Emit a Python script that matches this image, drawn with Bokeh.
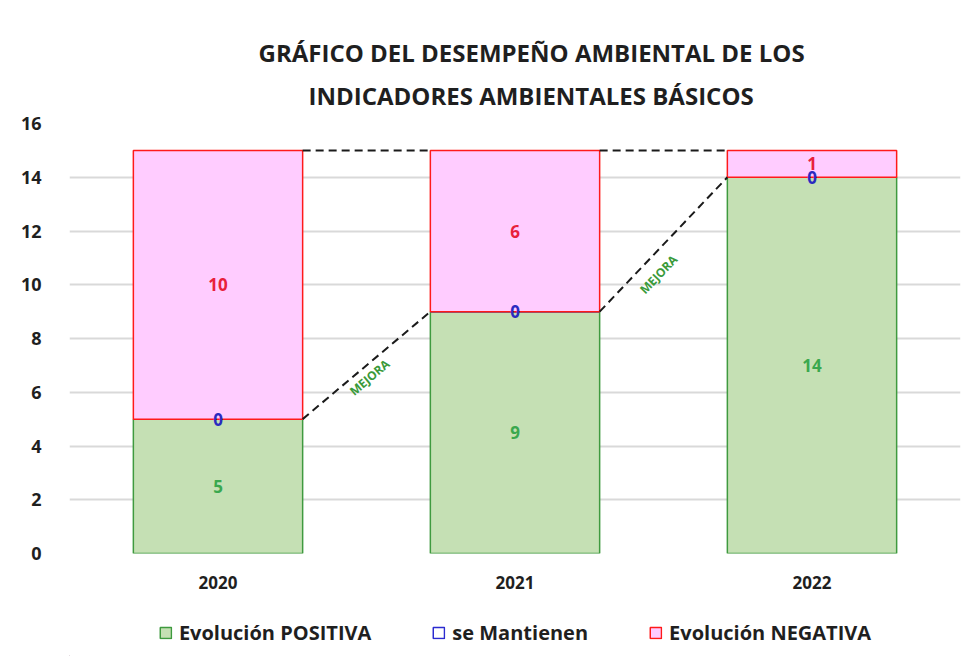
from bokeh.plotting import figure
from bokeh.layouts import column
from bokeh.models import ColumnDataSource, Legend, LegendItem, FixedTicker, Range1d, Title
from bokeh.core.properties import value
from bokeh.embed import file_html
from bokeh.resources import INLINE

# ---- data ----
years = ["2020", "2021", "2022"]
positiva = [5, 9, 14]
mantienen = [0, 0, 0]
negativa = [10, 6, 1]
y_ticks = [0, 2, 4, 6, 8, 10, 12, 14, 16]
series_names = ["Evolución POSITIVA", "se Mantienen", "Evolución NEGATIVA"]
title_1 = "GRÁFICO DEL DESEMPEÑO AMBIENTAL DE LOS"
title_2 = "INDICADORES AMBIENTALES BÁSICOS"
note = "MEJORA"

FONT = "Open Sans"
TXT = "#1f1f1f"
xs = list(range(len(years)))
BAR_W = 0.57
HALF = BAR_W / 2

POS_STYLE = dict(fill_color="#c5e0b4", line_color="#3f9a3f", line_width=1.5)
MAN_STYLE = dict(fill_color="white", fill_alpha=0, line_color="#2b2bd0", line_width=1.5)
NEG_STYLE = dict(fill_color="#ffccff", line_color="#ff1a1a", line_width=1.5)

top_pos = positiva
top_man = [a + b for a, b in zip(positiva, mantienen)]
top_neg = [a + b for a, b in zip(top_man, negativa)]

src = ColumnDataSource(dict(
    x=xs, pos=positiva, man_b=top_pos, man_t=top_man, neg_b=top_man, neg_t=top_neg,
    pos_mid=[v / 2 for v in positiva],
    neg_mid=[b + n / 2 for b, n in zip(top_man, negativa)],
    pos_lbl=[str(v) for v in positiva],
    man_lbl=[str(v) for v in mantienen],
    neg_lbl=[str(v) for v in negativa],
))

p = figure(width=964, height=608, x_range=Range1d(-0.5, len(years) - 0.5),
           y_range=Range1d(0, 16), output_backend="svg", toolbar_location=None,
           min_border_left=69, min_border_right=4, min_border_top=123, min_border_bottom=55)
p.outline_line_color = None
p.xgrid.grid_line_color = None
p.ygrid.grid_line_color = "#d9d9d9"
p.ygrid.grid_line_width = 2

p.vbar(x="x", bottom=0, top="pos", width=BAR_W, source=src, **POS_STYLE)
p.vbar(x="x", bottom="man_b", top="man_t", width=BAR_W, source=src, **MAN_STYLE)
p.vbar(x="x", bottom="neg_b", top="neg_t", width=BAR_W, source=src, **NEG_STYLE)

# connector (series) lines
for i in range(len(xs) - 1):
    p.line([xs[i] + HALF, xs[i + 1] - HALF], [top_pos[i], top_pos[i + 1]],
           line_color="#1a1a1a", line_width=2, line_dash="8 5")
    p.line([xs[i] + HALF, xs[i + 1] - HALF], [top_neg[i], top_neg[i + 1]],
           line_color="#1a1a1a", line_width=2, line_dash="8 5")

# MEJORA notes
mx = [(xs[i] + HALF + xs[i + 1] - HALF) / 2 for i in range(len(xs) - 1)]
my = [(top_pos[i] + top_pos[i + 1]) / 2 for i in range(len(xs) - 1)]
p.text(x=mx, y=my, text=[note] * len(mx), angle=[0.70, 0.81],
       x_offset=[3, -5], y_offset=[12, 30],
       text_align="center", text_baseline="middle", text_color="#3a9a3a",
       text_font=value(FONT), text_font_style="bold", text_font_size="12px")

# value labels
common = dict(source=src, text_align="center", text_baseline="middle",
              text_font=value(FONT), text_font_style="bold", text_font_size="17px")
p.text(x="x", y="pos_mid", text="pos_lbl", text_color="#3aa84e", **common)
p.text(x="x", y="neg_mid", text="neg_lbl", text_color="#e8203a", **common)
p.text(x="x", y="man_t", text="man_lbl", text_color="#2a2ac0", **common)

# axes
p.yaxis.ticker = FixedTicker(ticks=y_ticks)
p.yaxis.axis_line_color = None
p.yaxis.major_tick_line_color = None
p.yaxis.minor_tick_line_color = None
p.yaxis.major_label_standoff = 22
p.yaxis.major_label_text_font = FONT
p.yaxis.major_label_text_font_style = "bold"
p.yaxis.major_label_text_font_size = "18px"
p.yaxis.major_label_text_color = TXT

p.xaxis.ticker = FixedTicker(ticks=xs)
p.xaxis.major_label_overrides = {i: y for i, y in zip(xs, years)}
p.xaxis.axis_line_color = None
p.xaxis.major_tick_line_color = None
p.xaxis.minor_tick_line_color = None
p.xaxis.major_label_standoff = 16
p.xaxis.major_label_text_font = FONT
p.xaxis.major_label_text_font_style = "bold"
p.xaxis.major_label_text_font_size = "17px"
p.xaxis.major_label_text_color = TXT

t2 = Title(text=title_2, align="left", text_font=FONT, text_font_style="bold",
           text_font_size="24px", text_color=TXT, offset=239, standoff=24)
t1 = Title(text=title_1, align="left", text_font=FONT, text_font_style="bold",
           text_font_size="24px", text_color=TXT, offset=189, standoff=-9)
p.add_layout(t2, "above")
p.add_layout(t1, "above")

# ---- legend strip below the chart ----
lg = figure(width=964, height=48, x_range=Range1d(0, 1), y_range=Range1d(0, 1),
            output_backend="svg", toolbar_location=None,
            x_axis_type=None, y_axis_type=None,
            min_border_left=38, min_border_right=0, min_border_top=0, min_border_bottom=0)
lg.outline_line_color = None
lg.grid.grid_line_color = None
hidden = dict(x=[-10], bottom=[0], top=[0])  # swatch carriers, outside the visible range
r1 = lg.vbar(x="x", bottom="bottom", top="top", width=0.1, source=ColumnDataSource(hidden), **POS_STYLE)
r2 = lg.vbar(x="x", bottom="bottom", top="top", width=0.1, source=ColumnDataSource(hidden), **MAN_STYLE)
r3 = lg.vbar(x="x", bottom="bottom", top="top", width=0.1, source=ColumnDataSource(hidden), **NEG_STYLE)
legend = Legend(items=[LegendItem(label=n, renderers=[r]) for n, r in zip(series_names, [r1, r2, r3])],
                orientation="horizontal", location="center", padding=2, margin=0,
                label_text_font=FONT, label_text_font_style="bold",
                label_text_font_size="20px", label_text_color=TXT,
                glyph_width=14, glyph_height=14, label_standoff=7, spacing=60,
                border_line_alpha=0, background_fill_alpha=0)
lg.add_layout(legend, "center")

layout = column(p, lg, spacing=0)
open("out.html", "w").write(file_html(layout, INLINE))
